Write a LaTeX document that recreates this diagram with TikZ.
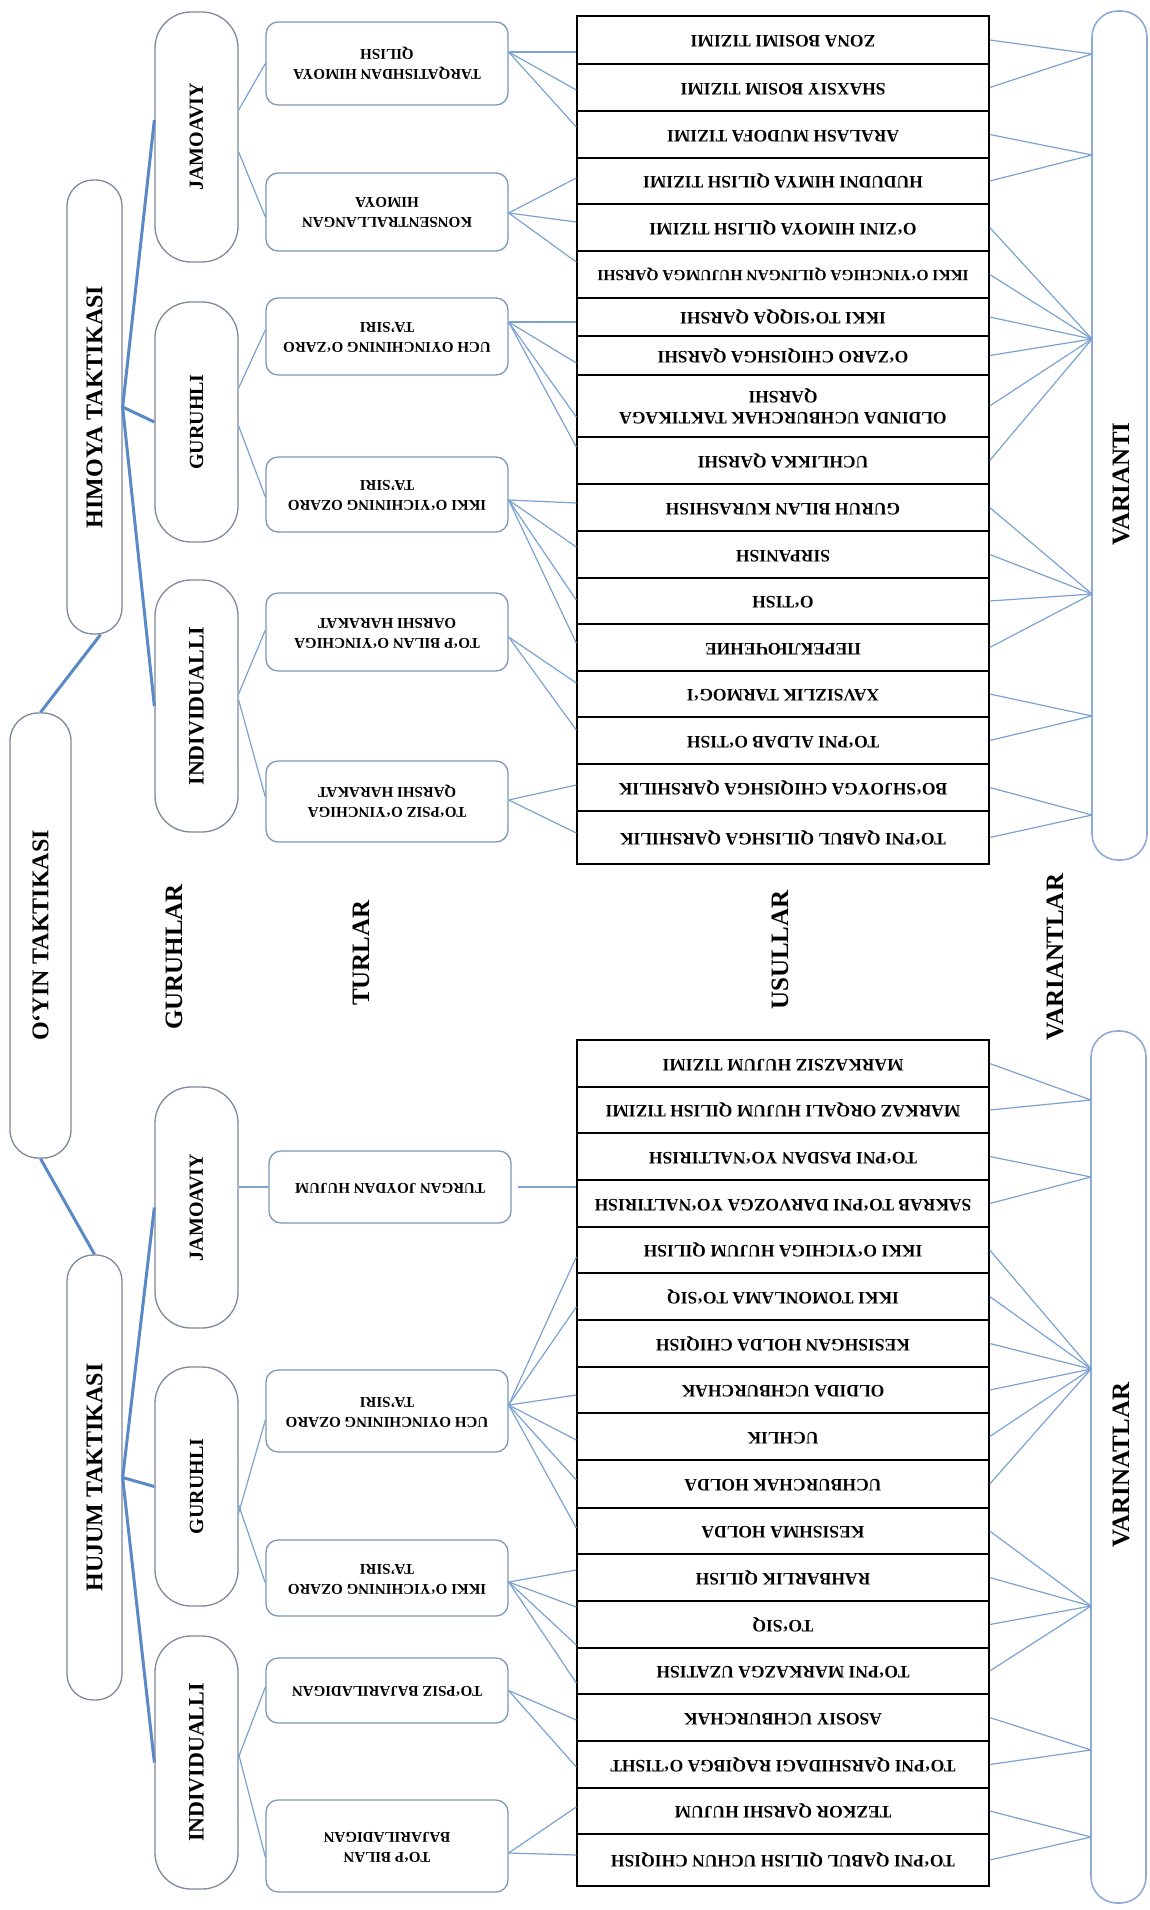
\documentclass[tikz,border=0pt]{standalone}
\usepackage{fontspec}
\setmainfont{Liberation Serif}
\usepackage{graphicx}

\definecolor{lineblue}{HTML}{7BA3D1}
\definecolor{thickblue}{HTML}{5A8AC6}
\definecolor{turedge}{HTML}{7F98B4}
\definecolor{grpedge}{HTML}{7E8A9C}
\definecolor{varedge}{HTML}{8FAAD6}

% upside-down cell text and bottom-to-top label text
\newcommand{\flipcell}[1]{\rotatebox[origin=c]{180}{\begin{tabular}{@{}c@{}}#1\end{tabular}}}
\newcommand{\uptext}[1]{\rotatebox[origin=c]{90}{#1}}

\tikzset{
  usul/.style={draw=black, line width=1.4pt, minimum width=412pt, inner sep=0pt,
    font=\bfseries\fontsize{17.5}{21}\selectfont},
  tur/.style={draw=turedge, line width=1.3pt, rounded corners=12pt, minimum width=242pt,
    inner sep=0pt, font=\bfseries\fontsize{15}{20}\selectfont},
  grp/.style={draw=grpedge, line width=1.3pt, rounded corners=36pt, minimum width=83pt,
    inner sep=0pt, font=\bfseries\fontsize{20}{24}\selectfont},
  mainbox/.style={draw=grpedge, line width=1.3pt, rounded corners=26pt, minimum width=55pt,
    inner sep=0pt, font=\bfseries\fontsize{24}{28}\selectfont},
  varbox/.style={draw=varedge, line width=1.6pt, rounded corners=26pt, minimum width=55pt,
    inner sep=0pt},
  head/.style={inner sep=0pt, font=\bfseries\fontsize{25}{28}\selectfont},
  thin/.style={draw=lineblue, line width=1.2pt},
  thick/.style={draw=thickblue, line width=3pt},
}

\begin{document}
\begin{tikzpicture}[x=1pt, y=-1pt]
\fill[white] (0,0) rectangle (1149,1910);
\useasboundingbox (0,0) rectangle (1149,1910);

% ---------- top level ----------
\node[mainbox, minimum width=61pt, minimum height=445pt, rounded corners=28pt] (oyin) at (40.5,935.5) {\uptext{O‘YIN TAKTIKASI}};
\node[mainbox, minimum height=454pt] (himoya) at (94.5,407) {\uptext{HIMOYA TAKTIKASI}};
\node[mainbox, minimum height=445pt] (hujum) at (94.5,1477.5) {\uptext{HUJUM TAKTIKASI}};

% ---------- column headings ----------
\node[head] (hg) at (174,957) {\uptext{GURUHLAR}};
\node[head] (ht) at (361,953) {\uptext{TURLAR}};
\node[head] (hu) at (780,950) {\uptext{USULLAR}};
\node[head] (hv) at (1055,957) {\uptext{VARIANTLAR}};

% ---------- groups ----------
\node[grp, minimum height=250pt] (g1) at (196.5,137) {\uptext{JAMOAVIY}};
\node[grp, minimum height=240pt] (g2) at (196.5,422) {\uptext{GURUHLI}};
\node[grp, minimum height=252pt, font=\bfseries\fontsize{22}{26}\selectfont] (g3) at (196.5,706) {\uptext{INDIVIDUALLI}};
\node[grp, minimum height=241pt] (g4) at (196.5,1207.5) {\uptext{JAMOAVIY}};
\node[grp, minimum height=239pt] (g5) at (196.5,1486.5) {\uptext{GURUHLI}};
\node[grp, minimum height=253pt, font=\bfseries\fontsize{22}{26}\selectfont] (g6) at (196.5,1762.5) {\uptext{INDIVIDUALLI}};

% ---------- types ----------
\node[tur, minimum height=83pt] (t1) at (387,63.5) {\flipcell{TARQATISHDAN HIMOYA\\QILISH}};
\node[tur, minimum height=78pt] (t2) at (387,212) {\flipcell{KONSENTRALLANGAN\\HIMOYA}};
\node[tur, minimum height=77pt] (t3) at (387,336.5) {\flipcell{UCH OYINCHINING O‘ZARO\\TA’SIRI}};
\node[tur, minimum height=75pt] (t4) at (387,494.5) {\flipcell{IKKI O‘YICHINING OZARO\\TA’SIRI}};
\node[tur, minimum height=78pt] (t5) at (387,632) {\flipcell{TO‘P BILAN O‘YINCHIGA\\OARSHI HARAKAT}};
\node[tur, minimum height=81pt] (t6) at (387,801.5) {\flipcell{TO‘PSIZ O‘YINCHIGA\\QARSHI HARAKAT}};
\node[tur, minimum height=72pt] (t7) at (390,1187) {\flipcell{TURGAN JOYDAN HUJUM}};
\node[tur, minimum height=82pt] (t8) at (387,1411) {\flipcell{UCH OYINCHINING OZARO\\TA’SIRI}};
\node[tur, minimum height=76pt] (t9) at (387,1578) {\flipcell{IKKI O‘YICHINING OZARO\\TA’SIRI}};
\node[tur, minimum height=65pt] (t10) at (387,1690.5) {\flipcell{TO‘PSIZ BAJARILADIGAN}};
\node[tur, minimum height=92pt] (t11) at (387,1846) {\flipcell{TO‘P BILAN\\BAJARILADIGAN}};

% ---------- defence methods ----------
\node[usul, minimum height=48pt] (u1) at (783,40) {\flipcell{ZONA BOSIMI TIZIMI}};
\node[usul, minimum height=47pt] (u2) at (783,87.5) {\flipcell{SHAXSIY BOSIM TIZIMI}};
\node[usul, minimum height=47pt] (u3) at (783,134.5) {\flipcell{ARALASH MUDOFA TIZIMI}};
\node[usul, minimum height=46pt] (u4) at (783,181) {\flipcell{HUDUDNI HIMYA QILISH TIZIMI}};
\node[usul, minimum height=47pt] (u5) at (783,227.5) {\flipcell{O‘ZINI HIMOYA QILISH TIZIMI}};
\node[usul, minimum height=47pt, font=\bfseries\fontsize{15.5}{19}\selectfont] (u6) at (783,274.5) {\flipcell{IKKI O‘YINCHIGA QILINGAN HUJUMGA QARSHI}};
\node[usul, minimum height=38pt] (u7) at (783,317) {\flipcell{IKKI TO‘SIQQA QARSHI}};
\node[usul, minimum height=39pt] (u8) at (783,355.5) {\flipcell{O‘ZARO CHIQISHGA QARSHI}};
\node[usul, minimum height=62pt] (u9) at (783,406) {\flipcell{OLDINDA UCHBURCHAK TAKTIKAGA\\QARSHI}};
\node[usul, minimum height=47pt] (u10) at (783,460.5) {\flipcell{UCHLIKKA QARSHI}};
\node[usul, minimum height=47pt] (u11) at (783,507.5) {\flipcell{GURUH BILAN KURASHISH}};
\node[usul, minimum height=47pt] (u12) at (783,554.5) {\flipcell{SIRPANISH}};
\node[usul, minimum height=46pt] (u13) at (783,601) {\flipcell{O‘TISH}};
\node[usul, minimum height=47pt] (u14) at (783,647.5) {\flipcell{ПЕРЕКЛЮЧЕНИЕ}};
\node[usul, minimum height=46pt] (u15) at (783,694) {\flipcell{XAVSIZLIK TARMOG‘I}};
\node[usul, minimum height=47pt] (u16) at (783,740.5) {\flipcell{TO‘PNI ALDAB O‘TISH}};
\node[usul, minimum height=47pt] (u17) at (783,787.5) {\flipcell{BO‘SHJOYGA CHIQISHGA QARSHILIK}};
\node[usul, minimum height=53pt] (u18) at (783,837.5) {\flipcell{TO‘PNI QABUL QILISHGA QARSHILIK}};

% ---------- attack methods ----------
\node[usul, minimum height=47pt] (l1) at (783,1063.5) {\flipcell{MARKAZSIZ HUJUM TIZIMI}};
\node[usul, minimum height=46pt] (l2) at (783,1110) {\flipcell{MARKAZ ORQALI HUJUM QILISH TIZIMI}};
\node[usul, minimum height=47pt] (l3) at (783,1156.5) {\flipcell{TO‘PNI PASDAN YO‘NALTIRISH}};
\node[usul, minimum height=47pt] (l4) at (783,1203.5) {\flipcell{SAKRAB TO‘PNI DARVOZGA YO‘NALTIRISH}};
\node[usul, minimum height=46pt] (l5) at (783,1250) {\flipcell{IKKI O‘YICHIGA HUJUM QILISH}};
\node[usul, minimum height=47pt] (l6) at (783,1296.5) {\flipcell{IKKI TOMONLAMA TO‘SIQ}};
\node[usul, minimum height=47pt] (l7) at (783,1343.5) {\flipcell{KESISHGAN HOLDA CHIQISH}};
\node[usul, minimum height=46pt] (l8) at (783,1390) {\flipcell{OLDIDA UCHBURCHAK}};
\node[usul, minimum height=47pt] (l9) at (783,1436.5) {\flipcell{UCHLIK}};
\node[usul, minimum height=48pt] (l10) at (783,1484) {\flipcell{UCHBURCHAK HOLDA}};
\node[usul, minimum height=46pt] (l11) at (783,1531) {\flipcell{KESISHMA HOLDA}};
\node[usul, minimum height=47pt] (l12) at (783,1577.5) {\flipcell{RAHBARLIK QILISH}};
\node[usul, minimum height=47pt] (l13) at (783,1624.5) {\flipcell{TO‘SIQ}};
\node[usul, minimum height=46pt] (l14) at (783,1671) {\flipcell{TO‘PNI MARKAZGA UZATISH}};
\node[usul, minimum height=47pt] (l15) at (783,1717.5) {\flipcell{ASOSIY UCHBURCHAK}};
\node[usul, minimum height=47pt] (l16) at (783,1764.5) {\flipcell{TO‘PNI QARSHIDAGI RAQIBGA O‘TISHT}};
\node[usul, minimum height=46pt] (l17) at (783,1811) {\flipcell{TEZKOR QARSHI HUJUM}};
\node[usul, minimum height=52pt] (l18) at (783,1860) {\flipcell{TO‘PNI QABUL QILISH UCHUN CHIQISH}};

% ---------- variant bars ----------
\node[varbox, minimum height=849pt] (var1) at (1119.5,435.5) {};
\node[head] (var1t) at (1121,484) {\uptext{VARIANTI}};
\node[varbox, minimum height=872pt] (var2) at (1118.5,1467) {};
\node[head] (var2t) at (1121,1465) {\uptext{VARINATLAR}};

\coordinate (v1) at (1092,54);
\coordinate (v2) at (1092,155);
\coordinate (v3) at (1092,339);
\coordinate (v4) at (1092,594);
\coordinate (v5) at (1092,716);
\coordinate (v6) at (1092,815);
\coordinate (w1) at (1091,1100);
\coordinate (w2) at (1091,1177);
\coordinate (w3) at (1091,1369);
\coordinate (w4) at (1091,1606);
\coordinate (w5) at (1091,1750);
\coordinate (w6) at (1091,1837);

% ---------- trunk links ----------
\draw[thick] (oyin.north) -- ([xshift=6pt]himoya.south);
\draw[thick] (oyin.south) -- (hujum.north);
\draw[thick] (himoya.east) -- ([yshift=17pt]g1.west);
\draw[thick] (himoya.east) -- (g2.west);
\draw[thick] (himoya.east) -- (g3.west);
\draw[thick] (hujum.east) -- (g4.west);
\draw[thick] (hujum.east) -- (g5.west);
\draw[thick] (hujum.east) -- (g6.west);

% ---------- groups to types ----------
\draw[thin] ([yshift=27pt]g1.east) -- (t1.west);
\draw[thin] ([yshift=-15pt]g1.east) -- ([yshift=-5pt]t2.west);
\draw[thin] ([yshift=34pt]g2.east) -- ([yshift=6.5pt]t3.west);
\draw[thin] ([yshift=-4pt]g2.east) -- ([yshift=-2.5pt]t4.west);
\draw[thin] ([yshift=12pt]g3.east) -- ([yshift=2pt]t5.west);
\draw[thin] ([yshift=6pt]g3.east) -- ([yshift=4.5pt]t6.west);
\draw[thin] (t7.west) -- (t7.west -| g4.east);
\draw[thin] ([yshift=-26.5pt]g5.east) -- ([yshift=-9pt]t8.west);
\draw[thin] ([yshift=-18.5pt]g5.east) -- ([yshift=-5pt]t9.west);
\draw[thin] ([yshift=5.5pt]g6.east) -- ([yshift=3.5pt]t10.west);
\draw[thin] ([yshift=8.5pt]g6.east) -- ([yshift=-11pt]t11.west);

% ---------- types to methods ----------
\foreach \r/\s in {u1/-12,u2/-2.5,u3/7.5}
  \draw[thin] ([yshift=11.5pt]t1.east) -- ([yshift=\s pt]\r.west);
\foreach \r/\s in {u4/3,u5/5.5,u6/12.5}
  \draw[thin] ([yshift=-1pt]t2.east) -- ([yshift=\s pt]\r.west);
\foreach \r/\s in {u7/-5,u8/-7.5,u9/-11,u10/13.5}
  \draw[thin] ([yshift=14.5pt]t3.east) -- ([yshift=\s pt]\r.west);
\foreach \r/\s in {u11/4.5,u12/7.5,u13/1,u14/4.5}
  \draw[thin] ([yshift=-5.5pt]t4.east) -- ([yshift=\s pt]\r.west);
\foreach \r/\s in {u15/11,u16/10.5}
  \draw[thin] ([yshift=-5pt]t5.east) -- ([yshift=\s pt]\r.west);
\foreach \r/\s in {u17/2.5,u18/4.5}
  \draw[thin] ([yshift=1.5pt]t6.east) -- ([yshift=\s pt]\r.west);
\draw[thin] ([xshift=6pt]t7.east) -- (t7.east -| l4.west);
\foreach \r/\s in {l5/-7,l6/-10.5,l8/-5,l9/-3.5,l10/4,l11/3}
  \draw[thin] ([yshift=6pt]t8.east) -- ([yshift=\s pt]\r.west);
\foreach \r/\s in {l12/7.5,l13/17.5,l13/-20.5,l14/-12}
  \draw[thin] ([yshift=-4pt]t9.east) -- ([yshift=\s pt]\r.west);
\foreach \r/\s in {l15/-2.5,l16/-2.5}
  \draw[thin] (t10.east) -- ([yshift=\s pt]\r.west);
\foreach \r/\s in {l17/4,l18/5}
  \draw[thin] ([yshift=-7pt]t11.east) -- ([yshift=\s pt]\r.west);

% ---------- methods to variants ----------
\foreach \r in {u1,u2} \draw[thin] (\r.east) -- (v1);
\foreach \r in {u3,u4} \draw[thin] (\r.east) -- (v2);
\foreach \r in {u5,u6,u7,u8,u9,u10} \draw[thin] (\r.east) -- (v3);
\foreach \r in {u11,u12,u13,u14} \draw[thin] (\r.east) -- (v4);
\foreach \r in {u15,u16} \draw[thin] (\r.east) -- (v5);
\foreach \r in {u17,u18} \draw[thin] (\r.east) -- (v6);
\foreach \r in {l1,l2} \draw[thin] (\r.east) -- (w1);
\foreach \r in {l3,l4} \draw[thin] (\r.east) -- (w2);
\foreach \r in {l5,l6,l7,l8,l9,l10} \draw[thin] (\r.east) -- (w3);
\foreach \r in {l11,l12,l13,l14} \draw[thin] (\r.east) -- (w4);
\foreach \r in {l15,l16} \draw[thin] (\r.east) -- (w5);
\foreach \r in {l17,l18} \draw[thin] (\r.east) -- (w6);
\end{tikzpicture}
\end{document}
